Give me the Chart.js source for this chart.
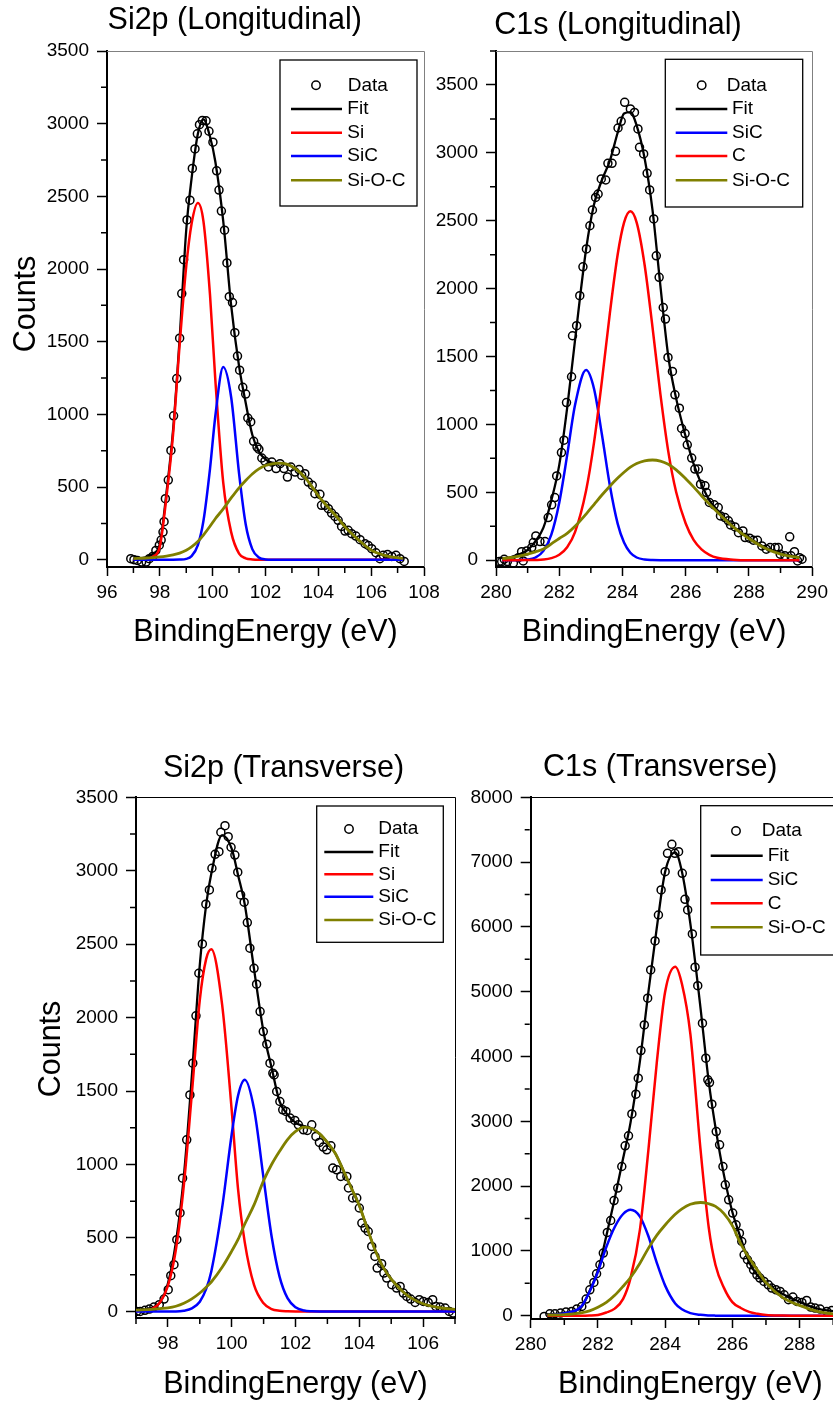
<!DOCTYPE html>
<html>
<head>
<meta charset="utf-8">
<title>XPS Si2p / C1s peak fitting</title>
<script src="https://cdn.jsdelivr.net/npm/chart.js@4.4.1/dist/chart.umd.min.js"></script>
<style>
  html, body { margin: 0; padding: 0; background: #fff; overflow: hidden; width: 833px; height: 1406px; }
  canvas { position: absolute; left: 0; top: 0; }
</style>
</head>
<body>
<canvas id="si2pLong" width="833" height="1406"></canvas>
<canvas id="c1sLong" width="833" height="1406"></canvas>
<canvas id="si2pTrans" width="833" height="1406"></canvas>
<canvas id="c1sTrans" width="900" height="1406"></canvas>
<script>
// ---------- Si2p, longitudinal ----------
const si2pLongDataX = [96.90, 97.02, 97.15, 97.31, 97.48, 97.60, 97.73, 97.85, 97.98, 98.05, 98.12, 98.16, 98.21, 98.32, 98.42, 98.52, 98.64, 98.75, 98.83, 98.90, 99.03, 99.14, 99.23, 99.33, 99.42, 99.50, 99.61, 99.75, 99.86, 100.01, 100.15, 100.24, 100.33, 100.45, 100.54, 100.63, 100.75, 100.84, 100.94, 101.02, 101.14, 101.25, 101.33, 101.44, 101.55, 101.68, 101.75, 101.86, 101.98, 102.11, 102.24, 102.40, 102.55, 102.70, 102.83, 102.96, 103.12, 103.27, 103.37, 103.49, 103.62, 103.77, 103.87, 104.06, 104.12, 104.25, 104.38, 104.50, 104.63, 104.75, 104.88, 105.01, 105.13, 105.26, 105.42, 105.58, 105.77, 105.89, 106.02, 106.18, 106.33, 106.46, 106.62, 106.78, 106.94, 107.09, 107.25];
const si2pLongDataY = [7, 0, -5, -16, -16, 7, 23, 64, 100, 135, 190, 262, 420, 548, 752, 990, 1246, 1524, 1831, 2064, 2338, 2474, 2692, 2826, 2930, 2993, 3022, 3020, 2948, 2873, 2676, 2543, 2399, 2267, 2042, 1810, 1769, 1562, 1401, 1304, 1186, 1140, 975, 948, 815, 775, 760, 700, 678, 638, 672, 627, 661, 627, 569, 638, 603, 620, 580, 592, 534, 512, 454, 450, 374, 374, 351, 321, 298, 271, 229, 197, 202, 179, 163, 138, 110, 98, 76, 48, 7, 30, 36, 23, 30, 7, -12];
const si2pLongGrid = [97.0, 97.5, 97.75, 98.0, 98.25, 98.5, 98.75, 99.0, 99.2, 99.44, 99.65, 99.9, 100.1, 100.4, 100.7, 101.0, 101.25, 101.5, 101.75, 102.0, 102.25, 102.55, 102.8, 103.0, 103.25, 103.5, 103.75, 104.0, 104.25, 104.5, 104.75, 105.0, 105.5, 106.0, 106.5, 107.2];
const si2pLongFit = [8, 18, 42, 110, 460, 890, 1524, 2270, 2620, 2930, 3030, 2910, 2740, 2330, 1750, 1330, 1080, 860, 745, 690, 668, 665, 658, 642, 610, 565, 505, 440, 385, 335, 285, 228, 140, 66, 30, 8];
const si2pLongSi = [0, 5, 22, 90, 430, 860, 1480, 2020, 2310, 2455, 2330, 1820, 1240, 530, 190, 42, 10, 2, 0, 0, 0, 0, 0, 0, 0, 0, 0, 0, 0, 0, 0, 0, 0, 0, 0, 0];
const si2pLongSiC = [0, 0, 0, 0, 0, 0, 1, 6, 25, 101, 266, 627, 987, 1326, 1118, 592, 244, 73, 16, 2, 0, 0, 0, 0, 0, 0, 0, 0, 0, 0, 0, 0, 0, 0, 0, 0];
const si2pLongSiOC = [8, 12, 15, 19, 25, 33, 45, 65, 88, 125, 170, 230, 282, 350, 425, 495, 545, 590, 625, 648, 660, 664, 658, 642, 610, 565, 505, 440, 385, 335, 285, 228, 140, 66, 30, 8];

// ---------- C1s, longitudinal ----------
const c1sLongDataX = [280.10, 280.18, 280.26, 280.36, 280.55, 280.71, 280.81, 280.86, 280.97, 281.13, 281.18, 281.26, 281.39, 281.55, 281.65, 281.76, 281.86, 281.92, 282.07, 282.15, 282.23, 282.39, 282.42, 282.55, 282.65, 282.75, 282.86, 282.97, 283.05, 283.15, 283.23, 283.33, 283.47, 283.54, 283.67, 283.78, 283.86, 283.96, 284.07, 284.25, 284.38, 284.49, 284.54, 284.67, 284.78, 284.86, 284.99, 285.07, 285.16, 285.29, 285.36, 285.44, 285.58, 285.66, 285.80, 285.87, 285.98, 286.05, 286.19, 286.29, 286.40, 286.47, 286.61, 286.66, 286.75, 286.90, 287.03, 287.10, 287.24, 287.35, 287.42, 287.56, 287.67, 287.81, 287.88, 288.02, 288.14, 288.27, 288.41, 288.55, 288.67, 288.83, 288.93, 288.99, 289.14, 289.29, 289.33, 289.44, 289.54, 289.60, 289.68];
const c1sLongDataY = [-10, -10, 7, -10, -20, 19, 63, -5, 68, 93, 130, 179, 137, 137, 314, 408, 461, 621, 793, 884, 1161, 1351, 1653, 1727, 1948, 2161, 2292, 2463, 2579, 2672, 2697, 2808, 2800, 2923, 2923, 3011, 3183, 3232, 3372, 3323, 3298, 3176, 3041, 2992, 2849, 2727, 2513, 2242, 2083, 1861, 1776, 1493, 1390, 1218, 1120, 970, 933, 850, 752, 671, 671, 560, 548, 498, 425, 408, 388, 326, 314, 290, 260, 245, 203, 216, 167, 162, 147, 147, 105, 81, 93, 93, 93, 44, 32, 172, 32, 63, -5, 19, 7];
const c1sLongGrid = [280.2, 280.5, 281.0, 281.25, 281.5, 281.75, 282.0, 282.25, 282.5, 282.85, 283.1, 283.35, 283.6, 283.85, 284.05, 284.25, 284.45, 284.7, 284.95, 285.2, 285.45, 285.7, 286.0, 286.25, 286.5, 286.75, 287.0, 287.5, 288.0, 288.5, 289.0, 289.6];
const c1sLongFit = [10, 25, 75, 140, 240, 440, 700, 1120, 1620, 2290, 2620, 2800, 2940, 3150, 3290, 3300, 3200, 2960, 2580, 2020, 1500, 1190, 910, 710, 560, 440, 370, 250, 165, 95, 50, 20];
const c1sLongSiC = [0, 0, 5, 20, 69, 189, 424, 772, 1143, 1400, 1263, 926, 552, 268, 130, 55, 20, 5, 1, 0, 0, 0, 0, 0, 0, 0, 0, 0, 0, 0, 0, 0];
const c1sLongC = [0, 0, 1, 2, 5, 15, 40, 96, 207, 514, 866, 1320, 1816, 2253, 2486, 2569, 2486, 2176, 1717, 1223, 800, 500, 270, 150, 80, 40, 18, 4, 0, 0, 0, 0];
const c1sLongSiOC = [12, 20, 45, 62, 82, 120, 160, 198, 250, 340, 410, 480, 545, 605, 648, 685, 712, 732, 738, 730, 706, 665, 600, 540, 475, 413, 355, 245, 160, 90, 45, 18];

// ---------- Si2p, transverse ----------
const si2pTransDataX = [97.02, 97.13, 97.28, 97.42, 97.56, 97.73, 97.88, 98.01, 98.09, 98.19, 98.28, 98.38, 98.46, 98.59, 98.69, 98.78, 98.88, 98.97, 99.08, 99.19, 99.30, 99.38, 99.48, 99.60, 99.66, 99.79, 99.89, 99.98, 100.10, 100.19, 100.28, 100.39, 100.49, 100.57, 100.70, 100.78, 100.89, 100.99, 101.10, 101.20, 101.29, 101.33, 101.41, 101.51, 101.60, 101.70, 101.83, 101.98, 102.09, 102.25, 102.37, 102.51, 102.64, 102.75, 102.87, 102.98, 103.11, 103.17, 103.29, 103.42, 103.61, 103.66, 103.79, 103.92, 104.00, 104.08, 104.18, 104.28, 104.39, 104.49, 104.56, 104.70, 104.77, 104.86, 105.02, 105.17, 105.28, 105.38, 105.49, 105.61, 105.75, 105.88, 106.01, 106.16, 106.30, 106.40, 106.53, 106.69, 106.82, 106.93];
const si2pTransDataY = [0, 0, 7, 16, 30, 46, 84, 148, 243, 318, 488, 670, 907, 1168, 1474, 1690, 2012, 2302, 2502, 2772, 2869, 3017, 3112, 3130, 3262, 3307, 3232, 3160, 3107, 2990, 2835, 2786, 2647, 2473, 2336, 2228, 2041, 1905, 1819, 1690, 1622, 1610, 1497, 1429, 1372, 1361, 1316, 1300, 1270, 1236, 1232, 1270, 1191, 1150, 1119, 1100, 1127, 976, 964, 919, 919, 840, 772, 772, 704, 601, 567, 544, 442, 374, 295, 325, 261, 227, 182, 159, 170, 125, 102, 84, 61, 80, 68, 61, 80, 34, 30, 23, 0, -11];
const si2pTransGrid = [97.0, 97.5, 97.75, 98.0, 98.25, 98.5, 98.75, 99.0, 99.2, 99.36, 99.7, 100.0, 100.2, 100.41, 100.7, 101.0, 101.25, 101.5, 101.75, 102.0, 102.27, 102.5, 102.75, 103.0, 103.25, 103.5, 103.75, 104.0, 104.25, 104.5, 104.75, 105.0, 105.5, 106.0, 106.5, 107.0];
const si2pTransFit = [5, 25, 60, 190, 470, 920, 1600, 2360, 2770, 2980, 3243, 3150, 2970, 2770, 2330, 1900, 1660, 1430, 1340, 1285, 1260, 1246, 1210, 1150, 1075, 960, 840, 720, 565, 415, 300, 220, 110, 52, 26, 14];
const si2pTransSi = [1, 17, 60, 173, 420, 860, 1480, 2120, 2400, 2466, 2089, 1370, 830, 470, 180, 55, 15, 4, 1, 0, 0, 0, 0, 0, 0, 0, 0, 0, 0, 0, 0, 0, 0, 0, 0, 0];
const si2pTransSiC = [0, 0, 0, 0, 0, 5, 20, 66, 153, 272, 706, 1206, 1470, 1577, 1379, 905, 512, 237, 90, 28, 6, 1, 0, 0, 0, 0, 0, 0, 0, 0, 0, 0, 0, 0, 0, 0];
const si2pTransSiOC = [8, 14, 19, 24, 35, 55, 85, 125, 165, 200, 300, 410, 490, 595, 725, 890, 1000, 1090, 1170, 1225, 1255, 1245, 1210, 1150, 1075, 960, 840, 720, 565, 415, 300, 220, 110, 52, 26, 14];

// ---------- C1s, transverse ----------
const c1sTransDataX = [280.40, 280.57, 280.72, 280.89, 281.05, 281.22, 281.37, 281.52, 281.65, 281.76, 281.88, 281.96, 282.06, 282.16, 282.28, 282.38, 282.48, 282.59, 282.71, 282.81, 282.91, 283.01, 283.13, 283.20, 283.28, 283.38, 283.48, 283.57, 283.70, 283.80, 283.88, 284.00, 284.07, 284.20, 284.29, 284.40, 284.51, 284.59, 284.67, 284.81, 284.89, 284.97, 285.11, 285.21, 285.27, 285.32, 285.39, 285.52, 285.62, 285.72, 285.79, 285.89, 286.01, 286.11, 286.21, 286.28, 286.35, 286.45, 286.55, 286.63, 286.73, 286.82, 286.94, 287.07, 287.17, 287.30, 287.42, 287.54, 287.67, 287.80, 287.92, 288.07, 288.21, 288.33, 288.46, 288.61, 288.81, 288.96];
const c1sTransDataY = [-10, 31, 31, 42, 57, 66, 103, 143, 258, 401, 514, 648, 787, 967, 1285, 1470, 1778, 1970, 2303, 2622, 2776, 3115, 3419, 3666, 4092, 4488, 4900, 5336, 5783, 6184, 6570, 6852, 7136, 7275, 7136, 7161, 6827, 6426, 6262, 5891, 5378, 5094, 4514, 3974, 3640, 3598, 3265, 2842, 2637, 2303, 2020, 1789, 1584, 1403, 1275, 1146, 941, 864, 787, 709, 632, 581, 529, 478, 427, 401, 375, 324, 247, 288, 221, 205, 236, 134, 118, 103, 66, 82];
const c1sTransGrid = [280.5, 281.0, 281.5, 281.75, 282.0, 282.25, 282.5, 282.75, 282.97, 283.25, 283.5, 283.75, 284.0, 284.3, 284.5, 284.75, 285.05, 285.3, 285.5, 285.75, 286.0, 286.25, 286.5, 286.75, 287.0, 287.5, 288.0, 288.5, 289.0, 289.5, 290.0];
const c1sTransFit = [20, 45, 130, 380, 700, 1230, 1810, 2430, 2980, 3930, 4990, 5980, 6850, 7150, 6850, 6050, 4760, 3600, 2900, 2170, 1600, 1200, 825, 620, 505, 335, 215, 115, 70, 35, 18];
const c1sTransSiC = [5, 40, 140, 370, 680, 1060, 1370, 1570, 1635, 1530, 1230, 820, 465, 190, 100, 40, 14, 5, 2, 0, 0, 0, 0, 0, 0, 0, 0, 0, 0, 0, 0];
const c1sTransC = [0, 0, 0, 3, 12, 50, 110, 260, 580, 1330, 2550, 3900, 5000, 5387, 5120, 4350, 2580, 1350, 780, 430, 210, 120, 60, 30, 12, 3, 0, 0, 0, 0, 0];
const c1sTransSiOC = [10, 18, 45, 75, 130, 205, 315, 455, 590, 810, 1040, 1240, 1400, 1565, 1648, 1720, 1748, 1728, 1688, 1575, 1390, 1110, 890, 700, 510, 280, 160, 72, 30, 15, 8];

// ---------- axis ticks ----------
const si2pLongXTicks = [96, 98, 100, 102, 104, 106, 108];
const si2pLongXMinor = [97, 99, 101, 103, 105, 107];
const si2pTransXTicks = [98, 100, 102, 104, 106];
const si2pTransXMinor = [97, 99, 101, 103, 105, 107];
const c1sLongXTicks = [280, 282, 284, 286, 288, 290];
const c1sLongXMinor = [281, 283, 285, 287, 289];
const c1sTransXTicks = [280, 282, 284, 286, 288];
const c1sTransXMinor = [281, 283, 285, 287, 289];
const countsTicks3500 = [0, 500, 1000, 1500, 2000, 2500, 3000, 3500];
const countsMinor3250 = [250, 750, 1250, 1750, 2250, 2750, 3250];
const countsMinor3750 = [250, 750, 1250, 1750, 2250, 2750, 3250, 3750];
const countsTicks8000 = [0, 1000, 2000, 3000, 4000, 5000, 6000, 7000, 8000];
const countsMinor7500 = [500, 1500, 2500, 3500, 4500, 5500, 6500, 7500];

// ---------- drawing ----------
const FONT = '"Liberation Sans", Arial, Helvetica, sans-serif';
const BLACK = '#000000', RED = '#ff0000', BLUE = '#0000ff', OLIVE = '#808000';

// Frame, minor ticks, panel title, rotated y title and boxed legend.
const panelDecor = {
  id: 'panelDecor',
  afterDraw(chart, args, o) {
    const { ctx, chartArea: a, scales: { x, y } } = chart;
    ctx.save();

    ctx.strokeStyle = o.frameColor;
    ctx.lineWidth = 1;
    ctx.beginPath();
    ctx.moveTo(a.left, Math.round(a.top) + 0.5);
    ctx.lineTo(Math.round(a.right) + 0.5, Math.round(a.top) + 0.5);
    ctx.lineTo(Math.round(a.right) + 0.5, a.bottom);
    ctx.stroke();

    ctx.strokeStyle = BLACK;
    ctx.lineWidth = 1.5;
    ctx.beginPath();
    o.xMinor.forEach(v => {
      const px = x.getPixelForValue(v);
      ctx.moveTo(px, a.bottom + 1);
      ctx.lineTo(px, a.bottom + 6);
    });
    o.yMinor.forEach(v => {
      const py = y.getPixelForValue(v);
      ctx.moveTo(a.left - 1, py);
      ctx.lineTo(a.left - 6, py);
    });
    ctx.stroke();

    ctx.fillStyle = BLACK;
    ctx.font = '30.5px ' + FONT;
    ctx.textAlign = 'center';
    ctx.textBaseline = 'alphabetic';
    ctx.fillText(o.title, o.titleX, o.titleY);
    if (o.yTitle) {
      ctx.save();
      ctx.translate(o.yTitleX, o.yTitleY);
      ctx.rotate(-Math.PI / 2);
      ctx.fillText(o.yTitle, 0, 0);
      ctx.restore();
    }

    const L = o.legend;
    const [bx1, by1, bx2, by2] = L.box;
    ctx.fillStyle = '#ffffff';
    ctx.fillRect(bx1, by1, bx2 - bx1, by2 - by1);
    ctx.strokeStyle = BLACK;
    ctx.lineWidth = 1.3;
    ctx.strokeRect(bx1, by1, bx2 - bx1, by2 - by1);
    ctx.font = '19px ' + FONT;
    ctx.textAlign = 'left';
    ctx.textBaseline = 'middle';
    chart.data.datasets.forEach((ds, i) => {
      const ry = L.rows[i];
      if (ds.showLine === false) {
        ctx.strokeStyle = BLACK;
        ctx.lineWidth = 1.5;
        ctx.beginPath();
        ctx.arc(L.markerX, ry, 4.2, 0, Math.PI * 2);
        ctx.stroke();
        ctx.fillStyle = BLACK;
        ctx.fillText(ds.label, L.dataTextX, ry);
      } else {
        ctx.strokeStyle = ds.borderColor;
        ctx.lineWidth = 2.6;
        ctx.beginPath();
        ctx.moveTo(L.lineX[0], ry);
        ctx.lineTo(L.lineX[1], ry);
        ctx.stroke();
        ctx.fillStyle = BLACK;
        ctx.fillText(ds.label, L.textX, ry);
      }
    });
    ctx.restore();
  }
};

function pairs(xs, ys) {
  return xs.map((x, i) => ({ x: x, y: ys[i] }));
}

function makePanel(p) {
  const datasets = [
    {
      label: 'Data', data: pairs(p.dataX, p.dataY), showLine: false,
      pointStyle: 'circle', pointRadius: 4, pointBorderWidth: 1.5,
      pointBorderColor: BLACK, pointBackgroundColor: 'rgba(0,0,0,0)', order: 5
    },
    {
      label: 'Fit', data: pairs(p.grid, p.fit), showLine: true, borderColor: BLACK,
      borderWidth: 2.3, pointRadius: 0, cubicInterpolationMode: 'monotone', order: 4
    }
  ];
  p.components.forEach((c, i) => {
    datasets.push({
      label: c.label, data: pairs(p.grid, c.values), showLine: true, borderColor: c.color,
      borderWidth: c.color === OLIVE ? 2.8 : 2.5, pointRadius: 0,
      cubicInterpolationMode: 'monotone', order: 3 - i
    });
  });

  const tickFont = { family: FONT, size: 19 };
  new Chart(document.getElementById(p.id), {
    type: 'scatter',
    data: { datasets: datasets },
    options: {
      responsive: false,
      animation: false,
      devicePixelRatio: 1,
      events: [],
      layout: { padding: p.padding },
      scales: {
        x: {
          type: 'linear', min: p.xMin, max: p.xMax,
          afterBuildTicks: s => { s.ticks = p.xTicks.map(v => ({ value: v })); },
          afterFit: s => { s.height = p.xAxisHeight; },
          grid: { drawOnChartArea: false, tickLength: 9, tickWidth: 1.5, tickColor: BLACK },
          border: { display: true, width: 2, color: BLACK },
          ticks: { font: tickFont, color: BLACK, padding: 5, maxRotation: 0, autoSkip: false, callback: v => String(v) },
          title: { display: true, text: 'BindingEnergy (eV)', color: BLACK, font: { family: FONT, size: 30.5 }, padding: { top: 0, bottom: 0 } }
        },
        y: {
          type: 'linear', min: p.yMin, max: p.yMax,
          afterBuildTicks: s => { s.ticks = p.yTicks.map(v => ({ value: v })); },
          afterFit: s => { s.width = p.yAxisWidth; },
          grid: { drawOnChartArea: false, tickLength: 10, tickWidth: 1.5, tickColor: BLACK },
          border: { display: true, width: 2, color: BLACK },
          ticks: { font: tickFont, color: BLACK, padding: 8, autoSkip: false, callback: v => String(v) }
        }
      },
      plugins: {
        legend: { display: false },
        tooltip: { enabled: false },
        panelDecor: {
          frameColor: p.frameColor, xMinor: p.xMinor, yMinor: p.yMinor,
          title: p.title, titleX: p.titleX, titleY: p.titleY,
          yTitle: p.yTitle, yTitleX: p.yTitleX, yTitleY: p.yTitleY,
          legend: p.legend
        }
      }
    },
    plugins: [panelDecor]
  });
}

makePanel({
  id: 'si2pLong',
  dataX: si2pLongDataX, dataY: si2pLongDataY, grid: si2pLongGrid, fit: si2pLongFit,
  components: [
    { label: 'Si', values: si2pLongSi, color: RED },
    { label: 'SiC', values: si2pLongSiC, color: BLUE },
    { label: 'Si-O-C', values: si2pLongSiOC, color: OLIVE }
  ],
  xMin: 96, xMax: 108, yMin: -50, yMax: 3500,
  xTicks: si2pLongXTicks, xMinor: si2pLongXMinor, yTicks: countsTicks3500, yMinor: countsMinor3250,
  padding: { left: 0, top: 51, right: 409, bottom: 755 },
  yAxisWidth: 107, xAxisHeight: 84, frameColor: '#808080',
  title: 'Si2p (Longitudinal)', titleX: 234.7, titleY: 29.3,
  yTitle: 'Counts', yTitleX: 35, yTitleY: 304,
  legend: { box: [280, 60, 417, 206], rows: [85.3, 109, 132.7, 156, 180.3], lineX: [291, 342], markerX: 316, textX: 347.3, dataTextX: 347.7 }
});

makePanel({
  id: 'c1sLong',
  dataX: c1sLongDataX, dataY: c1sLongDataY, grid: c1sLongGrid, fit: c1sLongFit,
  components: [
    { label: 'SiC', values: c1sLongSiC, color: BLUE },
    { label: 'C', values: c1sLongC, color: RED },
    { label: 'Si-O-C', values: c1sLongSiOC, color: OLIVE }
  ],
  xMin: 280, xMax: 290, yMin: -50, yMax: 3750,
  xTicks: c1sLongXTicks, xMinor: c1sLongXMinor, yTicks: countsTicks3500, yMinor: countsMinor3750,
  padding: { left: 420, top: 51, right: 20, bottom: 755 },
  yAxisWidth: 76, xAxisHeight: 84, frameColor: '#808080',
  title: 'C1s (Longitudinal)', titleX: 618, titleY: 34.3,
  yTitle: null,
  legend: { box: [665.3, 59.3, 802.7, 207], rows: [85.3, 109, 132.7, 156, 180.3], lineX: [675.7, 727.3], markerX: 701.7, textX: 732, dataTextX: 726.7 }
});

makePanel({
  id: 'si2pTrans',
  dataX: si2pTransDataX, dataY: si2pTransDataY, grid: si2pTransGrid, fit: si2pTransFit,
  components: [
    { label: 'Si', values: si2pTransSi, color: RED },
    { label: 'SiC', values: si2pTransSiC, color: BLUE },
    { label: 'Si-O-C', values: si2pTransSiOC, color: OLIVE }
  ],
  xMin: 97, xMax: 107, yMin: -45, yMax: 3500,
  xTicks: si2pTransXTicks, xMinor: si2pTransXMinor, yTicks: countsTicks3500, yMinor: countsMinor3250,
  padding: { left: 0, top: 797.3, right: 378, bottom: 3.3 },
  yAxisWidth: 136, xAxisHeight: 84.7, frameColor: BLACK,
  title: 'Si2p (Transverse)', titleX: 283.5, titleY: 777.3,
  yTitle: 'Counts', yTitleX: 59.5, yTitleY: 1049,
  legend: { box: [316.7, 806, 443.3, 942.3], rows: [829, 852, 874.3, 896.7, 920], lineX: [324.3, 373.3], markerX: 349, textX: 378.3, dataTextX: 378.3 }
});

makePanel({
  id: 'c1sTrans',
  dataX: c1sTransDataX, dataY: c1sTransDataY, grid: c1sTransGrid, fit: c1sTransFit,
  components: [
    { label: 'SiC', values: c1sTransSiC, color: BLUE },
    { label: 'C', values: c1sTransC, color: RED },
    { label: 'Si-O-C', values: c1sTransSiOC, color: OLIVE }
  ],
  xMin: 280, xMax: 289.5, yMin: -50, yMax: 8000,
  xTicks: c1sTransXTicks, xMinor: c1sTransXMinor, yTicks: countsTicks8000, yMinor: countsMinor7500,
  padding: { left: 440, top: 797.3, right: 50, bottom: 3.3 },
  yAxisWidth: 90.7, xAxisHeight: 83.7, frameColor: BLACK,
  title: 'C1s (Transverse)', titleX: 660.3, titleY: 776,
  yTitle: null,
  legend: { box: [700.7, 805.7, 845, 955], rows: [831, 855.7, 880, 903.3, 927.3], lineX: [710.7, 762.7], markerX: 736, textX: 767.7, dataTextX: 761.7 }
});
</script>
</body>
</html>
